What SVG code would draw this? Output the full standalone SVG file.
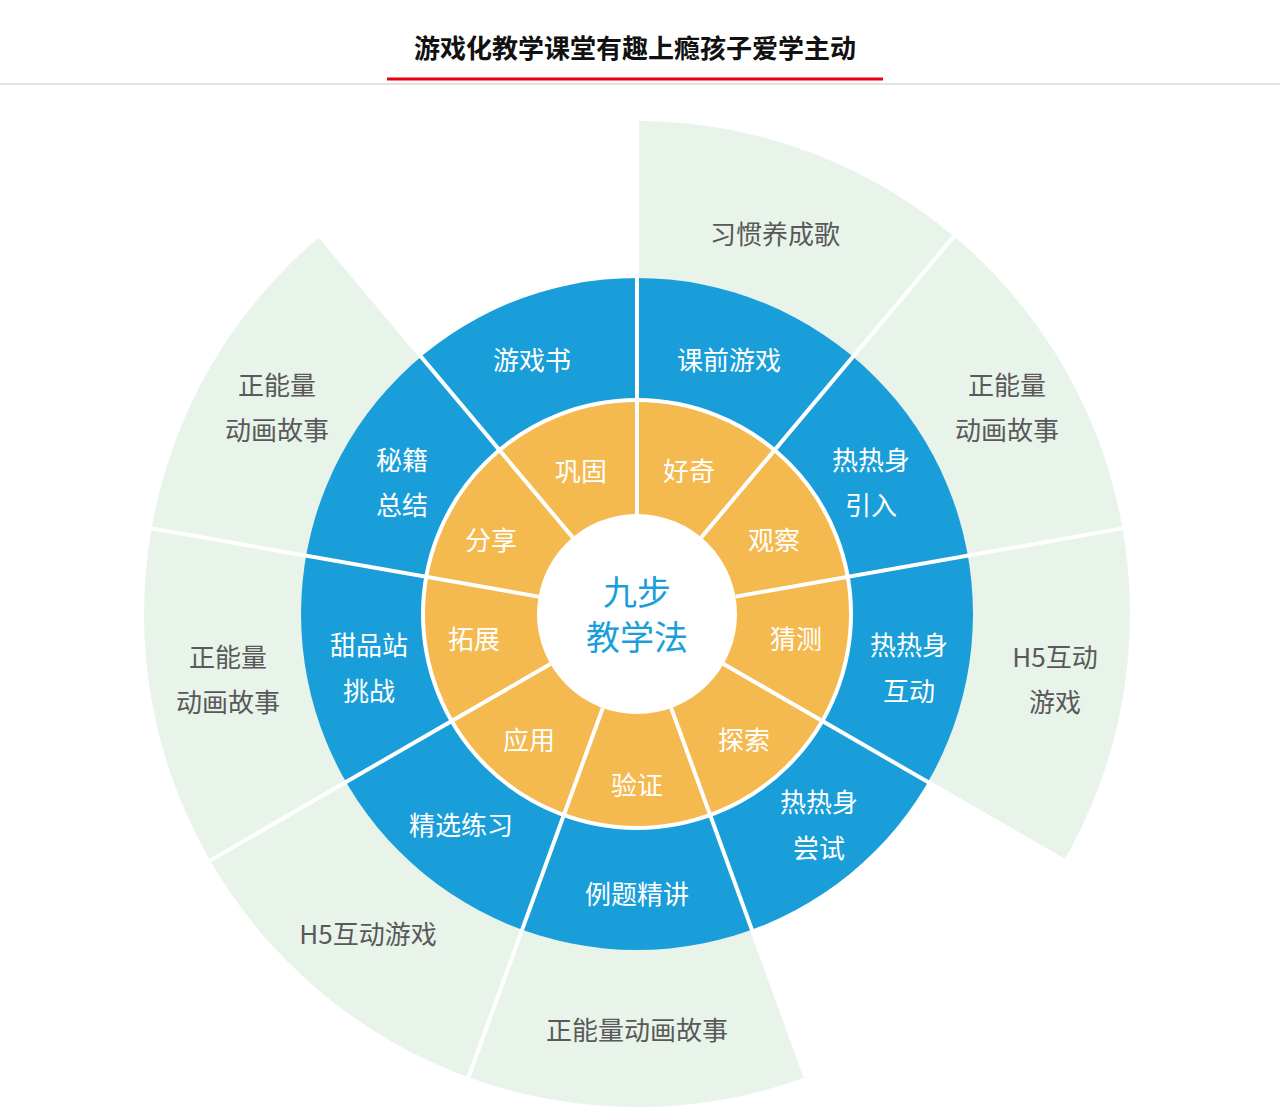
<svg xmlns="http://www.w3.org/2000/svg" width="1280" height="1120" viewBox="0 0 1280 1120">
<style>
text{font-family:"Noto Sans CJK SC","Noto Sans",sans-serif;text-anchor:middle;dominant-baseline:central}
.g{fill:#595959;font-size:26px}
.w{fill:#fff;font-size:26px}
.sep{stroke:#fff;stroke-width:4}
</style>
<rect width="1280" height="1120" fill="#fff"/>
<g id="title">
<text x="635" y="46" style="font-size:26px;font-weight:bold;fill:#111">游戏化教学课堂有趣上瘾孩子爱学主动</text>
<line x1="0" y1="84" x2="1280" y2="84" stroke="#e3e3e3" stroke-width="2"/>
<line x1="387" y1="79" x2="883" y2="79" stroke="#e60012" stroke-width="3"/>
</g>
<g id="outer-ring" fill="#e8f3ea">
<path d="M637,121 A493,493 0 0 1 1063.9,860.5 L928,782 A336,336 0 0 0 637,278 Z"/>
<path d="M805.6,1077.3 A493,493 0 0 1 320.1,236.4 L421,356.6 A336,336 0 0 0 751.9,929.7 Z"/>
</g>
<g id="rings">
<circle cx="637" cy="614" r="336" fill="#1a9ed9"/>
<circle cx="637" cy="614" r="214" fill="#f4b94f" stroke="#fff" stroke-width="4"/>
<circle cx="637" cy="614" r="100" fill="#fff"/>
</g>
<g id="connectors" class="sep">
<line x1="637" y1="514" x2="637" y2="121"/>
<line x1="701.3" y1="537.4" x2="953.9" y2="236.4"/>
<line x1="735.5" y1="596.6" x2="1122.5" y2="528.4"/>
<line x1="723.6" y1="664" x2="1063.9" y2="860.5"/>
<line x1="671.2" y1="708" x2="805.6" y2="1077.3"/>
<line x1="602.8" y1="708" x2="468.4" y2="1077.3"/>
<line x1="550.4" y1="664" x2="210.1" y2="860.5"/>
<line x1="538.5" y1="596.6" x2="151.5" y2="528.4"/>
<line x1="572.7" y1="537.4" x2="320.1" y2="236.4"/>
</g>
<g id="center"><text x="637" y="590" style="font-size:34px;fill:#1a9ed9">九步</text><text x="637" y="635" style="font-size:34px;fill:#1a9ed9">教学法</text></g>
<g id="orange-labels" class="w">
<text x="689" y="469" class="w">好奇</text><text x="774" y="538" class="w">观察</text><text x="796" y="637" class="w">猜测</text>
<text x="744" y="738" class="w">探索</text><text x="637" y="783" class="w">验证</text><text x="529" y="738" class="w">应用</text>
<text x="474" y="637" class="w">拓展</text><text x="491" y="538" class="w">分享</text><text x="581" y="469" class="w">巩固</text>
</g>
<g id="blue-labels">
<text x="729" y="358" class="w">课前游戏</text>
<text x="871" y="458" class="w">热热身</text><text x="871" y="503" class="w">引入</text>
<text x="909" y="643" class="w">热热身</text><text x="909" y="689" class="w">互动</text>
<text x="819" y="800" class="w">热热身</text><text x="819" y="846" class="w">尝试</text>
<text x="637" y="892" class="w">例题精讲</text>
<text x="461" y="823" class="w">精选练习</text>
<text x="369" y="643" class="w">甜品站</text><text x="369" y="689" class="w">挑战</text>
<text x="402" y="458" class="w">秘籍</text><text x="402" y="503" class="w">总结</text>
<text x="532" y="358" class="w">游戏书</text>
</g>
<g id="green-labels">
<text x="775" y="232" class="g">习惯养成歌</text>
<text x="1007" y="383" class="g">正能量</text><text x="1007" y="428" class="g">动画故事</text>
<text x="1055" y="655" class="g">H5互动</text><text x="1055" y="700" class="g">游戏</text>
<text x="637" y="1028" class="g">正能量动画故事</text>
<text x="368" y="932" class="g">H5互动游戏</text>
<text x="228" y="655" class="g">正能量</text><text x="228" y="700" class="g">动画故事</text>
<text x="277" y="383" class="g">正能量</text><text x="277" y="428" class="g">动画故事</text>
</g>
</svg>
